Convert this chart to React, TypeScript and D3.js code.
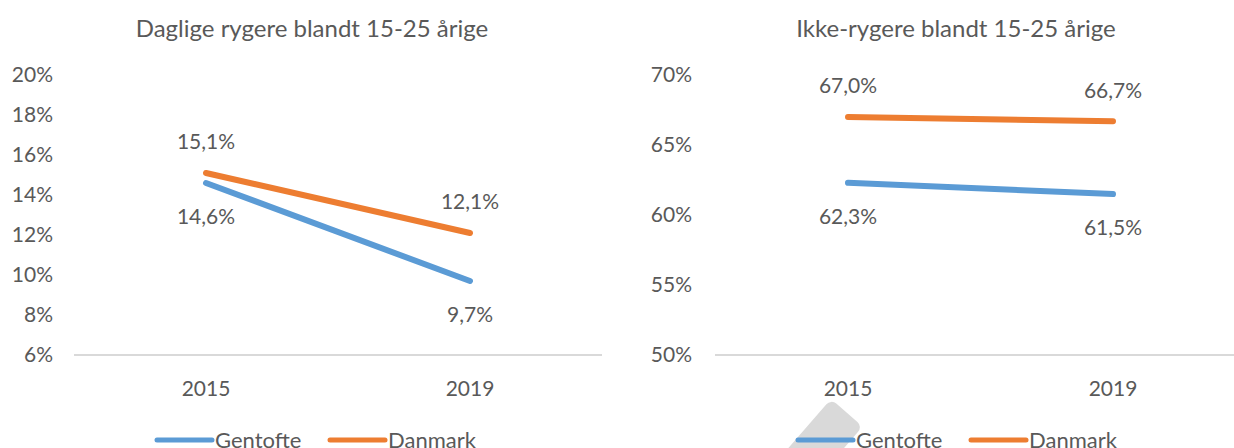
import React from 'react';
import * as d3 from 'd3';

// categories and series
const years = ['2015', '2019'];
const seriesNames = ['Gentofte', 'Danmark'];
const seriesColors = ['#5B9BD5', '#ED7D31'];

// daily smokers, 15-25 years (%)
const dailyGentofte = [14.6, 9.7];
const dailyDanmark = [15.1, 12.1];
const dailyTicks = [6, 8, 10, 12, 14, 16, 18, 20];

// non-smokers, 15-25 years (%)
const nonGentofte = [62.3, 61.5];
const nonDanmark = [67.0, 66.7];
const nonTicks = [50, 55, 60, 65, 70];

const FONT = 'Lato, "Open Sans", sans-serif';
const TEXT = '#595959';
const fmt = (v: number) => d3.format('.1f')(v).replace('.', ',') + '%';

type PanelProps = {
  title: string;
  series: number[][];
  ticks: number[];
  xRange: [number, number];
  gridX: [number, number];
  tickRight: number;
  titleX: number;
  legendX: number;
};

const Panel = ({ title, series, ticks, xRange, gridX, tickRight, titleX, legendX }: PanelProps) => {
  const x = d3.scaleBand().domain(years).range(xRange);
  const y = d3.scaleLinear().domain(d3.extent(ticks) as [number, number]).range([355, 75]);
  const cx = (i: number) => (x(years[i]) as number) + x.bandwidth() / 2;
  const line = d3.line<number>()
    .x((_, i) => cx(i))
    .y(d => y(d));

  return (
    <g>
      <text x={titleX} y={37} textAnchor="middle" fontSize={24} fill={TEXT}>{title}</text>

      {ticks.map(t => (
        <text key={t} x={tickRight} y={y(t)} dy="0.35em" textAnchor="end" fontSize={21} fill={TEXT}>{t}%</text>
      ))}
      <line x1={gridX[0]} x2={gridX[1]} y1={y(ticks[0])} y2={y(ticks[0])} stroke="#D9D9D9" strokeWidth={2} />

      {years.map((yr, i) => (
        <text key={yr} x={cx(i)} y={396} textAnchor="middle" fontSize={21} fill={TEXT}>{yr}</text>
      ))}

      {series.map((vals, si) => (
        <path key={si} d={line(vals) || ''} fill="none" stroke={seriesColors[si]} strokeWidth={6} strokeLinecap="round" />
      ))}

      {series.map((vals, si) => vals.map((v, i) => (
        <text key={si + '-' + i} x={cx(i)} y={y(v) + (si === 0 ? 34 : -31)}
          dy="0.35em" textAnchor="middle" fontSize={21} fill={TEXT}>{fmt(v)}</text>
      )))}

      {seriesNames.map((name, si) => {
        const lx = legendX + si * 173;
        return (
          <g key={name}>
            <line x1={lx} x2={lx + 55} y1={440} y2={440} stroke={seriesColors[si]} strokeWidth={5} strokeLinecap="round" />
            <text x={lx + 58} y={440} dy="0.35em" fontSize={22} fill={TEXT}>{name}</text>
          </g>
        );
      })}
    </g>
  );
};

export default function App() {
  return (
    <svg width={1234} height={448} style={{ position: 'absolute', left: 0, top: 0, background: '#fff' }} fontFamily={FONT}>
      <rect width={1234} height={448} fill="#fff" />
      {/* grey page artefact behind the right legend */}
      <rect x={0} y={0} width={42} height={90} rx={7} fill="#D9D9D9" transform="translate(831,399) rotate(41)" />
      <Panel
        title="Daglige rygere blandt 15-25 årige"
        series={[dailyGentofte, dailyDanmark]}
        ticks={dailyTicks}
        xRange={[74, 602]}
        gridX={[74, 602]}
        tickRight={53}
        titleX={312}
        legendX={157}
      />
      <Panel
        title="Ikke-rygere blandt 15-25 årige"
        series={[nonGentofte, nonDanmark]}
        ticks={nonTicks}
        xRange={[715.5, 1245.5]}
        gridX={[715, 1234]}
        tickRight={692}
        titleX={956}
        legendX={798}
      />
    </svg>
  );
}
